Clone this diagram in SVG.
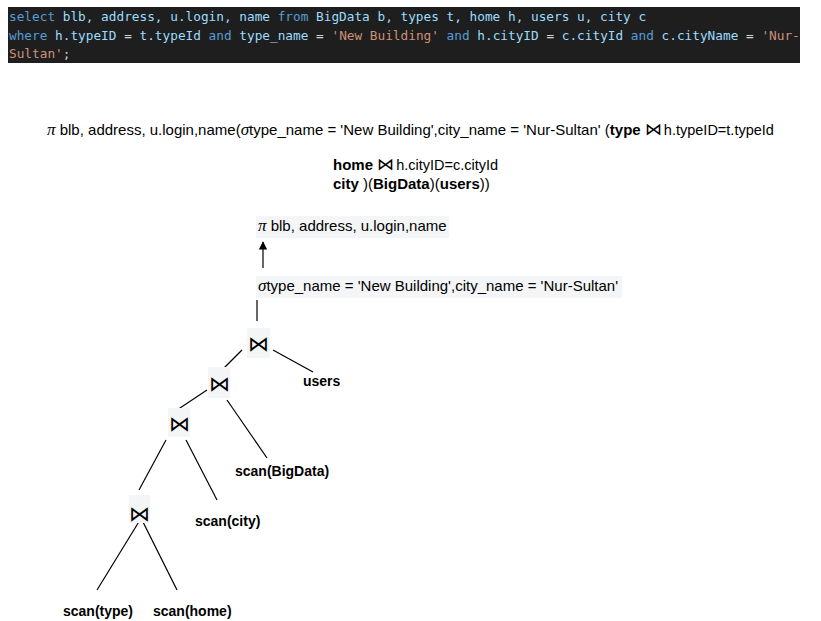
<svg xmlns="http://www.w3.org/2000/svg" width="821" height="621" viewBox="0 0 821 621">
<style>
.code{font-family:"DejaVu Sans Mono","Liberation Mono",monospace;font-size:12.75px;white-space:pre}
.kw{fill:#569cd6}.id{fill:#9cdcfe}.op{fill:#d4d4d4}.st{fill:#ce9178}
.f{font-family:"Liberation Sans",Arial,sans-serif;font-size:15px;fill:#000;white-space:pre}
.sub{font-size:14.5px}
.b{font-weight:bold}
.gr{font-family:"Liberation Serif","DejaVu Serif",serif;font-style:italic;font-size:17px}
.bt{font-family:"DejaVu Sans",sans-serif;font-weight:200}
.lbl{font-family:"Liberation Sans",Arial,sans-serif;font-size:14px;font-weight:bold;fill:#000}
.nb{fill:#f4f5f6}
.e{stroke:#000;stroke-width:1.2;fill:none}
</style>
<defs>
<marker id="ah" viewBox="0 0 10 10" refX="9" refY="5" markerWidth="7" markerHeight="7" orient="auto">
<path d="M0,0 L10,5 L0,10 z" fill="#000"/>
</marker>
</defs>
<rect width="821" height="621" fill="#fff"/>
<g id="sql">
<rect x="8" y="7" width="792" height="56" fill="#1e1e1e"/>
<text class="code" x="9" y="21"><tspan class="kw">select</tspan><tspan class="id"> blb, address, u.login, name </tspan><tspan class="kw">from</tspan><tspan class="id"> BigData b, types t, home h, users u, city c</tspan></text>
<text class="code" x="9" y="40"><tspan class="kw">where</tspan><tspan class="id"> h.typeID </tspan><tspan class="op">=</tspan><tspan class="id"> t.typeId </tspan><tspan class="kw">and</tspan><tspan class="id"> type_name </tspan><tspan class="op">=</tspan><tspan class="st"> 'New Building' </tspan><tspan class="kw">and</tspan><tspan class="id"> h.cityID </tspan><tspan class="op">=</tspan><tspan class="id"> c.cityId </tspan><tspan class="kw">and</tspan><tspan class="id"> c.cityName </tspan><tspan class="op">=</tspan><tspan class="st"> 'Nur-</tspan></text>
<text class="code" x="9" y="58"><tspan class="st">Sultan'</tspan><tspan class="op">;</tspan></text>
</g>
<g id="formula">
<text class="f" x="47" y="135"><tspan class="gr">π</tspan> blb, address, u.login,name(<tspan class="gr">σ</tspan>type_name = 'New Building',city_name = 'Nur-Sultan' (<tspan class="b">type</tspan> <tspan class="bt" font-size="17">⋈</tspan><tspan class="sub" dx="2">h.typeID=t.typeId</tspan></text>
<text class="f" x="333" y="170"><tspan class="b">home</tspan> <tspan class="bt" font-size="17">⋈</tspan><tspan class="sub" dx="2">h.cityID=c.cityId</tspan></text>
<text class="f" x="333" y="189"><tspan class="b">city</tspan> )(<tspan class="b">BigData</tspan>)(<tspan class="b">users</tspan>))</text>
</g>
<g id="edges">
<line class="e" x1="263" y1="268" x2="263" y2="242" marker-end="url(#ah)"/>
<line class="e" x1="257" y1="300" x2="257" y2="321"/>
<line class="e" x1="273" y1="350" x2="313" y2="372"/>
<line class="e" x1="242" y1="350" x2="222" y2="370"/>
<line class="e" x1="207" y1="390" x2="177" y2="410"/>
<line class="e" x1="227" y1="400" x2="267" y2="458"/>
<line class="e" x1="166" y1="440" x2="139" y2="490"/>
<line class="e" x1="186" y1="440" x2="217" y2="500"/>
<line class="e" x1="140" y1="520" x2="97" y2="590"/>
<line class="e" x1="143" y1="522" x2="177" y2="590"/>
</g>
<g id="proj">
<rect class="nb" x="256" y="216" width="193" height="22"/>
<text class="f" x="258" y="231"><tspan class="gr">π</tspan> blb, address, u.login,name</text>
</g>
<g id="select">
<rect class="nb" x="256" y="276" width="366" height="22"/>
<text class="f" x="258" y="291"><tspan class="gr">σ</tspan>type_name = 'New Building',city_name = 'Nur-Sultan'</text>
</g>
<g id="join1">
<rect class="nb" x="247" y="328" width="23" height="30"/>
<text class="bt" x="258.5" y="351" font-size="21" text-anchor="middle">⋈</text>
</g>
<g id="join2">
<rect class="nb" x="208" y="367" width="22" height="31"/>
<text class="bt" x="219" y="391" font-size="21" text-anchor="middle">⋈</text>
</g>
<g id="join3">
<rect class="nb" x="168" y="408" width="22" height="29"/>
<text class="bt" x="179" y="431" font-size="21" text-anchor="middle">⋈</text>
</g>
<g id="join4">
<rect class="nb" x="129" y="495" width="21" height="28"/>
<text class="bt" x="139.5" y="521" font-size="21" text-anchor="middle">⋈</text>
</g>
<g id="users"><text class="lbl" x="303" y="386">users</text></g>
<g id="scanBigData"><text class="lbl" x="235" y="476">scan(BigData)</text></g>
<g id="scanCity"><text class="lbl" x="195" y="526">scan(city)</text></g>
<g id="scanType"><text class="lbl" x="63" y="616">scan(type)</text></g>
<g id="scanHome"><text class="lbl" x="153" y="616">scan(home)</text></g>
</svg>
